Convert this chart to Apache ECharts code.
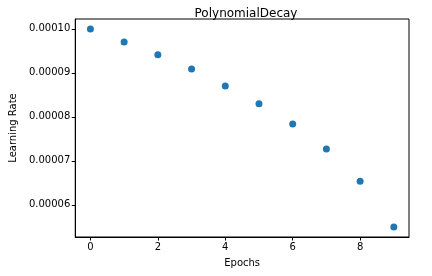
<!DOCTYPE html>
<html>
<head>
<meta charset="utf-8">
<script src="https://cdn.jsdelivr.net/npm/echarts@6/dist/echarts.min.js"></script>
<style>
  html, body { margin: 0; padding: 0; background: #fff; }
  #chart { width: 432px; height: 276px; }
</style>
</head>
<body>
<div id="chart"></div>
<script>
// values
const epochs = [0, 1, 2, 3, 4, 5, 6, 7, 8, 9]
const learningRates = [0.0001, 0.000097, 0.0000941, 0.0000909, 0.000087, 0.000083, 0.0000784, 0.0000727, 0.0000654, 0.000055]
const xTicks = [0, 2, 4, 6, 8]
const yTicks = [0.00006, 0.00007, 0.00008, 0.00009, 0.0001]

const font = 'DejaVu Sans'
const ink = '#000'

const chart = echarts.init(document.getElementById('chart'))
chart.setOption({
  animation: false,
  backgroundColor: '#fff',
  title: {
    text: 'PolynomialDecay',
    left: 241,
    textAlign: 'center',
    top: 3,
    textStyle: { fontFamily: font, fontSize: 12, fontWeight: 'normal', color: ink }
  },
  grid: {
    left: 74, right: 23, top: 19, bottom: 39,
    show: true, borderColor: ink, borderWidth: 1
  },
  xAxis: {
    type: 'value',
    min: -0.45,
    max: 9.45,
    name: 'Epochs',
    nameLocation: 'middle',
    nameGap: 21,
    nameTextStyle: { fontFamily: font, fontSize: 10, color: ink },
    axisLine: { onZero: false, lineStyle: { color: ink } },
    axisTick: { length: 3.5, lineStyle: { color: ink }, customValues: xTicks },
    axisLabel: { fontFamily: font, fontSize: 10, color: ink, margin: 5, customValues: xTicks },
    splitLine: { show: false }
  },
  yAxis: {
    type: 'value',
    min: 0.0000527,
    max: 0.00010225,
    name: 'Learning Rate',
    nameLocation: 'middle',
    nameRotate: 90,
    nameGap: 47,
    nameTextStyle: { fontFamily: font, fontSize: 10, color: ink },
    axisLine: { show: true, onZero: false, lineStyle: { color: ink } },
    axisTick: { show: true, length: 3.5, lineStyle: { color: ink }, customValues: yTicks },
    axisLabel: {
      fontFamily: font, fontSize: 10, color: ink, margin: 5,
      customValues: yTicks,
      formatter: (v) => v.toFixed(5)
    },
    splitLine: { show: false }
  },
  series: [{
    type: 'scatter',
    data: epochs.map((e, i) => [e, learningRates[i]]),
    symbolSize: 7,
    itemStyle: { color: '#1f77b4', opacity: 1 }
  }]
})
</script>
</body>
</html>
